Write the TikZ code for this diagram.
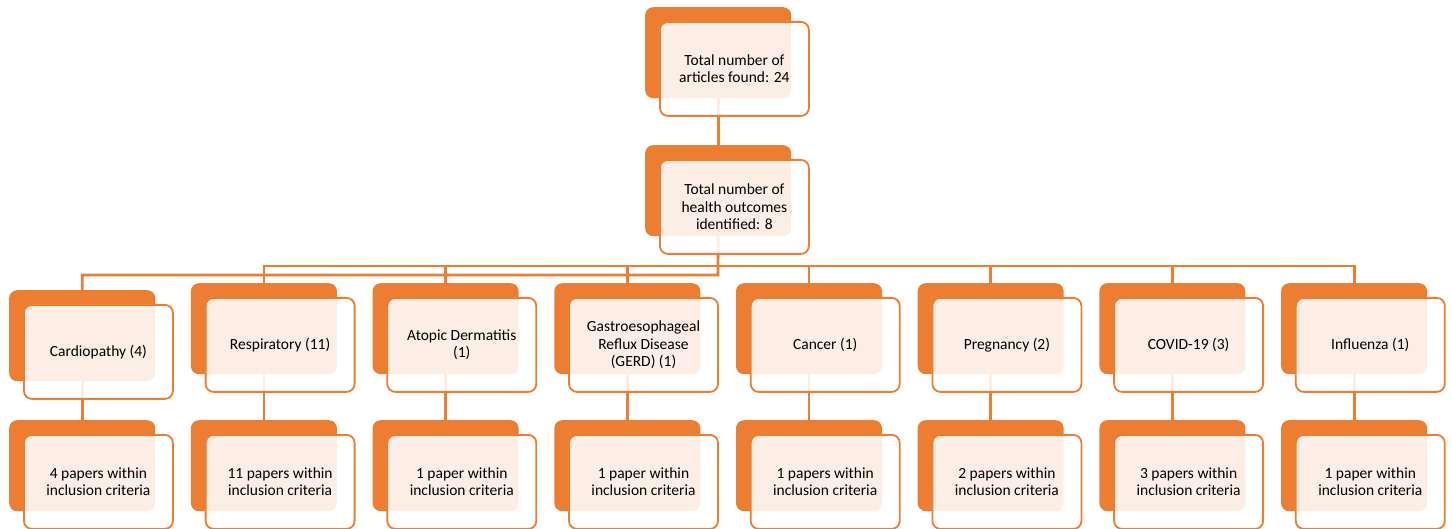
\documentclass[tikz,border=0pt]{standalone}
\usepackage{fontspec}
\setmainfont{Carlito}
\usetikzlibrary{positioning}
\definecolor{smartorange}{HTML}{ED7D31}

\begin{document}
\begin{tikzpicture}[x=1pt,y=-1pt,
	backbox/.style={fill=smartorange, rounded corners=8pt, minimum width=146pt, minimum height=91pt, inner sep=0pt, anchor=north west},
	frontbox/.style={draw=smartorange, line width=1.8pt, fill=white, fill opacity=0.87, draw opacity=1, text opacity=1, rounded corners=8pt, minimum width=149pt, minimum height=94pt, inner sep=0pt, align=center, font=\fontsize{15.5}{17.5}\selectfont},
	link/.style={draw=smartorange, line width=2.8pt}]
	\useasboundingbox (0,0) rectangle (1452,529);
	% back boxes
	\node[backbox] (total) at (645,7) {};
	\node[backbox] (outcomes) at (645,145) {};
	\foreach \ytop [count=\i] in {290,283,283,283,283,283,283,283}{
		\pgfmathsetmacro\xl{9+181.7*(\i-1)}
		\node[backbox] (cat\i) at (\xl,\ytop) {};
		\node[backbox] (paper\i) at (\xl,420) {};
	}
	% connectors
	\coordinate (lowbus) at (718,275);
	\coordinate (highbus) at (0,266);
	\draw[link] (total.south) -- (outcomes.north);
	\draw[link] (outcomes.south) -- (lowbus) -| (cat1.north);
	\draw[link] (cat2.north) -- (cat2.north |- highbus) -- (cat8.north |- highbus) -- (cat8.north);
	\foreach \i in {3,...,7}
		\draw[link] (cat\i.north) -- (cat\i.north |- highbus);
	\foreach \i in {1,...,8}
		\draw[link] (cat\i.south) -- (paper\i.north);
	% front boxes
	\node[frontbox, below right=14pt and 14pt of total.north west] (totallabel) {Total number of\\articles found: 24};
	\node[frontbox, below right=14pt and 14pt of outcomes.north west] (outcomeslabel) {Total number of\\health outcomes\\identified: 8};
	\foreach \lab/\res [count=\i] in {
		{Cardiopathy (4)}/{4 papers within\\inclusion criteria},
		{Respiratory (11)}/{11 papers within\\inclusion criteria},
		{Atopic Dermatitis\\(1)}/{1 paper within\\inclusion criteria},
		{Gastroesophageal\\Reflux Disease\\(GERD) (1)}/{1 paper within\\inclusion criteria},
		{Cancer (1)}/{1 papers within\\inclusion criteria},
		{Pregnancy (2)}/{2 papers within\\inclusion criteria},
		{COVID-19 (3)}/{3 papers within\\inclusion criteria},
		{Influenza (1)}/{1 paper within\\inclusion criteria}}{
		\node[frontbox, below right=14pt and 14pt of cat\i.north west] (catlabel\i) {\lab};
		\node[frontbox, below right=14pt and 14pt of paper\i.north west] (paperlabel\i) {\res};
	}
\end{tikzpicture}
\end{document}
